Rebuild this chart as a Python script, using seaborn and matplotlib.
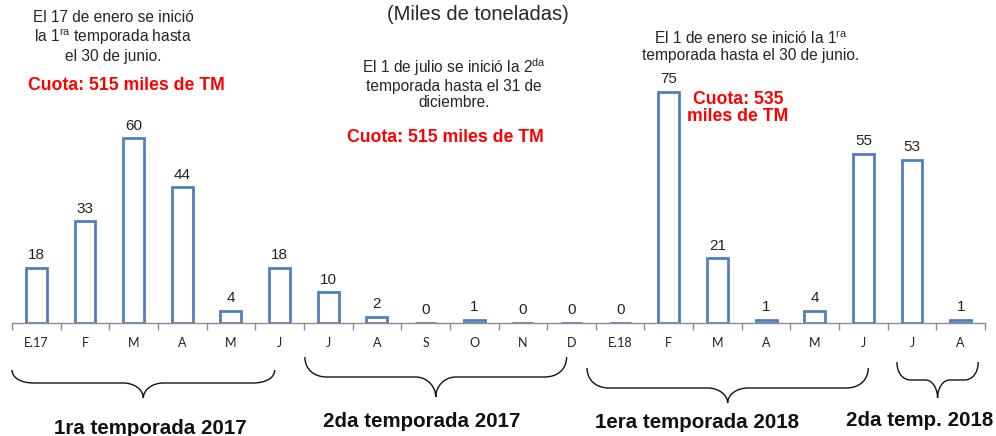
import matplotlib
matplotlib.use("Agg")
import matplotlib.pyplot as plt
from matplotlib.path import Path
from matplotlib.patches import PathPatch
import seaborn as sns
import pandas as pd

# ---- data ----
months = ["E.17", "F", "M", "A", "M", "J", "J", "A", "S", "O", "N", "D",
          "E.18", "F", "M", "A", "M", "J", "J", "A"]
values = [18, 33, 60, 44, 4, 18, 10, 2, 0, 1, 0, 0,
          0, 75, 21, 1, 4, 55, 53, 1]
seasons = ["1ra temporada 2017", "2da temporada 2017",
           "1era temporada 2018", "2da temp. 2018"]
season_spans = [(-0.5, 4.9), (5.52, 10.9), (11.32, 17.1), (17.69, 19.36)]

sns.set_theme(style="white")
plt.rcParams["font.family"] = ["Liberation Sans", "DejaVu Sans"]
plt.rcParams["mathtext.fontset"] = "custom"
plt.rcParams["mathtext.rm"] = "Liberation Sans"
plt.rcParams["mathtext.it"] = "Liberation Sans"

df = pd.DataFrame({"pos": list(range(len(values))), "val": values})

W, H = 996, 436
fig = plt.figure(figsize=(W / 100, H / 100), dpi=100)
ax_bottom_px = 323
ppu = 3.08
ax = fig.add_axes([12 / W, (H - ax_bottom_px) / H, (985 - 12) / W, 80 * ppu / H])

sns.barplot(data=df, x="pos", y="val", ax=ax, color="white", saturation=1,
            edgecolor="#4F81BD", linewidth=2.0, width=0.43, errorbar=None)
ax.set_ylim(0, 80)
ax.set_xlim(-0.5, len(values) - 0.5)
ax.bar_label(ax.containers[0], labels=[str(v) for v in values], padding=4,
             fontsize=11, color="#222222")

for s in ["top", "left", "right"]:
    ax.spines[s].set_visible(False)
ax.spines["bottom"].set_color("#8C8C8C")
ax.spines["bottom"].set_linewidth(1.0)
ax.set_yticks([])
ax.set_xlabel("")
ax.set_ylabel("")
ax.set_xticks(range(len(values)))
ax.set_xticklabels(months, fontsize=9, family=["Lato", "DejaVu Sans"], color="#222222")
ax.tick_params(axis="x", which="major", length=0, pad=10)
ax.set_xticks([i - 0.5 for i in range(len(values) + 1)], minor=True)
ax.tick_params(axis="x", which="minor", length=5, color="#8C8C8C", width=1.0, bottom=True)

# ---- texts ----
def fy(px):
    return 1 - px / H

def fx(px):
    return px / W

fig.text(fx(478), fy(14), "(Miles de toneladas)", ha="center", va="center", fontsize=14.5)

fig.text(fx(113), fy(37), "El 17 de enero se inició\nla 1$^{\\mathrm{ra}}$ temporada hasta\nel 30 de junio.",
         ha="center", va="center", fontsize=11.2, linespacing=1.1)
fig.text(fx(126), fy(85), "Cuota: 515 miles de TM", ha="center", va="center",
         fontsize=12.7, fontweight="bold", color="#FF0000")

fig.text(fx(454), fy(83), "El 1 de julio se inició la 2$^{\\mathrm{da}}$\ntemporada hasta el 31 de\ndiciembre.",
         ha="center", va="center", fontsize=11.2, linespacing=1.1)
fig.text(fx(445), fy(138), "Cuota: 515 miles de TM", ha="center", va="center",
         fontsize=12.7, fontweight="bold", color="#FF0000")

fig.text(fx(751), fy(46), "El 1 de enero se inició la 1$^{\\mathrm{ra}}$\ntemporada hasta el 30 de junio.",
         ha="center", va="center", fontsize=11.2, linespacing=1.1)
fig.text(fx(738), fy(108), "Cuota: 535\nmiles de TM", ha="center", va="center",
         fontsize=12.7, fontweight="bold", color="#FF0000", linespacing=1.05)

# ---- braces ----
fig.canvas.draw()

def brace(x0d, x1d, yt, ym, yb, a=22, b=20):
    x0 = ax.transData.transform((x0d, 0))[0]
    x1 = ax.transData.transform((x1d, 0))[0]
    xm = (x0 + x1) / 2
    yt, ym, yb = H - yt, H - ym, H - yb
    verts = [
        (x0, yt),
        (x0, yt + 0.6 * (ym - yt)), (x0 + 0.4 * a, ym), (x0 + a, ym),
        (xm - b, ym),
        (xm - 0.45 * b, ym), (xm, ym + 0.45 * (yb - ym)), (xm, yb),
        (xm, ym + 0.45 * (yb - ym)), (xm + 0.45 * b, ym), (xm + b, ym),
        (x1 - a, ym),
        (x1 - 0.4 * a, ym), (x1, yt + 0.6 * (ym - yt)), (x1, yt),
    ]
    codes = [Path.MOVETO,
             Path.CURVE4, Path.CURVE4, Path.CURVE4,
             Path.LINETO,
             Path.CURVE4, Path.CURVE4, Path.CURVE4,
             Path.CURVE4, Path.CURVE4, Path.CURVE4,
             Path.LINETO,
             Path.CURVE4, Path.CURVE4, Path.CURVE4]
    p = PathPatch(Path(verts, codes), transform=None, fill=False,
                  edgecolor="#111111", linewidth=1.0)
    fig.patches.append(p)
    return xm

brace_y = [(370, 383, 398), (357, 377, 397), (368, 388, 403), (362, 380, 398)]
label_pos = [(150, 428), (422, 421), (697, 422), (920, 420)]
for (x0d, x1d), (yt, ym, yb), name, (lx, ly) in zip(season_spans, brace_y, seasons, label_pos):
    if name == "2da temp. 2018":
        brace(x0d, x1d, yt, ym, yb, a=14, b=12)
    else:
        brace(x0d, x1d, yt, ym, yb)
    fig.text(fx(lx), fy(ly), name, ha="center", va="center", fontsize=14.8,
             fontweight="bold", color="#111111")

fig.savefig("out.png", dpi=100)
